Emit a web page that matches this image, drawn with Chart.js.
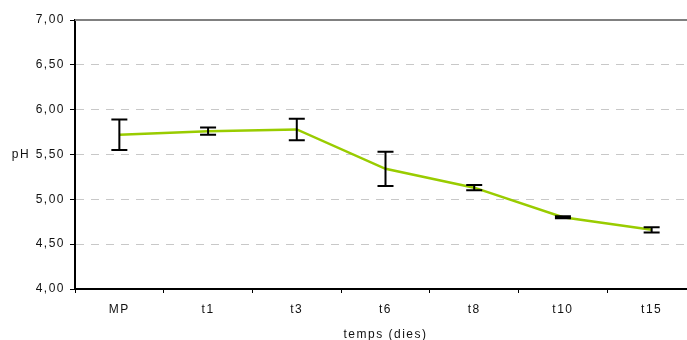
<!DOCTYPE html>
<html lang="ca">
<head>
    <meta charset="UTF-8">
    <title>pH - temps (dies)</title>
    <script src="https://cdn.jsdelivr.net/npm/chart.js"></script>
    <style>
        html, body {
            margin: 0;
            padding: 0;
            background: #fff;
            overflow: hidden;
        }
        #phChart {
            display: block;
        }
    </style>
</head>
<body>
    <canvas id="phChart" width="700" height="340"></canvas>
    <script>
        // dades llegides del gràfic
        const categories = ['MP', 't1', 't3', 't6', 't8', 't10', 't15'];
        const phMean = [5.72, 5.76, 5.78, 5.34, 5.13, 4.80, 4.66];
        const phError = [0.17, 0.04, 0.12, 0.19, 0.03, 0.01, 0.03];
        const yMin = 4;
        const yMax = 7;
        const yStep = 0.5;

        const fontFamily = '"Liberation Sans", Arial, sans-serif';
        const fontSize = 12;

        // el text d'Excel surt força espaiat
        const spacingPlugin = {
            id: 'spacing',
            beforeLayout(chart) { chart.ctx.letterSpacing = '1.5px'; },
            beforeDraw(chart) { chart.ctx.letterSpacing = '1.5px'; }
        };

        // barres d'error, línia superior i títol "pH"
        const extrasPlugin = {
            id: 'extras',
            afterDatasetsDraw(chart) {
                const ctx = chart.ctx;
                const x = chart.scales.x;
                const y = chart.scales.y;
                const area = chart.chartArea;

                ctx.save();
                ctx.strokeStyle = '#808080';
                ctx.lineWidth = 2;
                ctx.beginPath();
                ctx.moveTo(area.left, y.getPixelForValue(yMax));
                ctx.lineTo(area.right, y.getPixelForValue(yMax));
                ctx.stroke();

                ctx.strokeStyle = '#000';
                ctx.lineWidth = 2;
                phMean.forEach((m, i) => {
                    const px = x.getPixelForValue(i);
                    const top = y.getPixelForValue(m + phError[i]);
                    const bottom = y.getPixelForValue(m - phError[i]);
                    ctx.beginPath();
                    ctx.moveTo(px, top);
                    ctx.lineTo(px, bottom);
                    ctx.moveTo(px - 8, top);
                    ctx.lineTo(px + 8, top);
                    ctx.moveTo(px - 8, bottom);
                    ctx.lineTo(px + 8, bottom);
                    ctx.stroke();
                });

                ctx.fillStyle = '#111';
                ctx.font = fontSize + 'px ' + fontFamily;
                ctx.textAlign = 'center';
                ctx.textBaseline = 'middle';
                ctx.fillText('pH', 21, (area.top + area.bottom) / 2);
                ctx.restore();
            }
        };

        new Chart(document.getElementById('phChart'), {
            type: 'line',
            data: {
                labels: categories,
                datasets: [{
                    data: phMean,
                    borderColor: '#99cc00',
                    borderWidth: 2.5,
                    pointRadius: 0,
                    tension: 0,
                    fill: false
                }]
            },
            options: {
                responsive: false,
                animation: false,
                devicePixelRatio: 1,
                layout: {
                    padding: { top: 20, right: 4, left: 0, bottom: 0 }
                },
                plugins: {
                    legend: { display: false },
                    tooltip: { enabled: false }
                },
                scales: {
                    x: {
                        offset: true,
                        grid: {
                            offset: true,
                            drawOnChartArea: false,
                            drawTicks: true,
                            tickLength: 4,
                            tickColor: '#000',
                            lineWidth: 1
                        },
                        border: { color: '#000', width: 2 },
                        ticks: {
                            color: '#111',
                            padding: 9,
                            font: { family: fontFamily, size: fontSize },
                            maxRotation: 0
                        },
                        title: {
                            display: true,
                            text: 'temps (dies)',
                            color: '#111',
                            font: { family: fontFamily, size: fontSize },
                            padding: { top: 4, bottom: -2 }
                        },
                        afterFit(scale) { scale.height = 51; }
                    },
                    y: {
                        min: yMin,
                        max: yMax,
                        ticks: {
                            stepSize: yStep,
                            color: '#111',
                            padding: 5,
                            font: { family: fontFamily, size: fontSize },
                            callback: v => v.toFixed(2).replace('.', ',')
                        },
                        grid: {
                            color: c => (c.tick && c.tick.value === yMax) ? 'rgba(0,0,0,0)' : '#c8c8c8',
                            lineWidth: 1,
                            tickColor: '#000',
                            tickLength: 5,
                            tickBorderDash: []
                        },
                        border: { color: '#000', width: 2, dash: [8, 7] },
                        afterFit(scale) { scale.width = 75; }
                    }
                }
            },
            plugins: [spacingPlugin, extrasPlugin]
        });
    </script>
</body>
</html>
